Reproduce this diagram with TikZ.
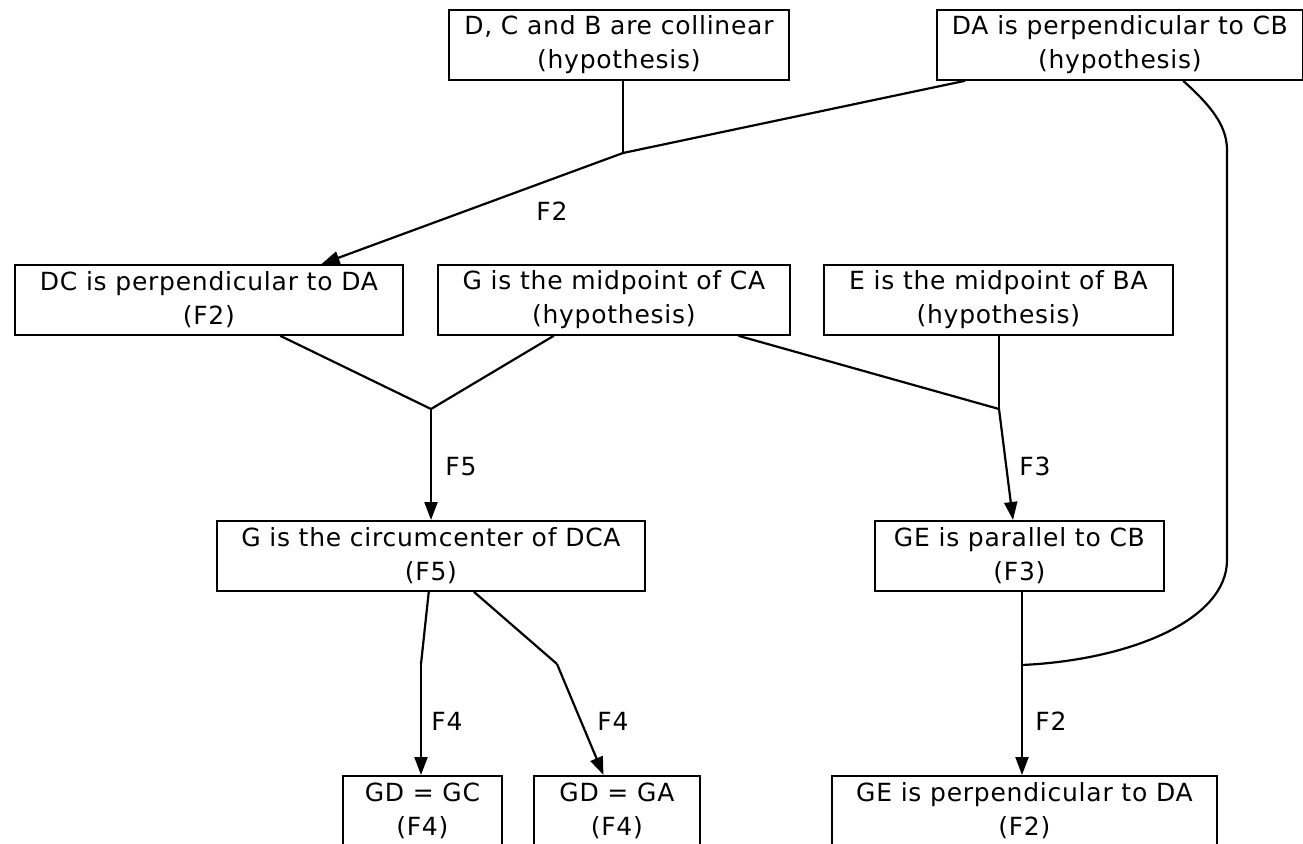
\documentclass[tikz,border=0pt]{standalone}
\usepackage{fontspec}
\setmainfont{DejaVu Sans}[LetterSpace=3]
\usetikzlibrary{arrows.meta,calc}
\begin{document}
\begin{tikzpicture}[x=1pt,y=-1pt,
  box/.style={draw, line width=1.8pt, inner sep=0pt, minimum height=70pt,
    anchor=north west, align=center, font=\fontsize{25}{34}\selectfont},
  link/.style={line width=2.2pt},
  infer/.style={line width=2.2pt, -{Triangle[length=18pt,width=13pt]}},
  rulelabel/.style={inner sep=0pt, font=\fontsize{25}{30}\selectfont}]
\useasboundingbox (0,0) rectangle (1303,843);
\clip (0,0) rectangle (1303,843);

% statements
\node[box, minimum width=340pt] (b1) at (448,9) {D, C and B are collinear\\(hypothesis)};
\node[box, minimum width=366pt] (b2) at (936,9) {DA is perpendicular to CB\\(hypothesis)};
\node[box, minimum width=388pt] (b3) at (14,264) {DC is perpendicular to DA\\(F2)};
\node[box, minimum width=352pt] (b4) at (437,264) {G is the midpoint of CA\\(hypothesis)};
\node[box, minimum width=349pt] (b5) at (823,264) {E is the midpoint of BA\\(hypothesis)};
\node[box, minimum width=428pt] (b6) at (216,520) {G is the circumcenter of DCA\\(F5)};
\node[box, minimum width=289pt] (b7) at (874,520) {GE is parallel to CB\\(F3)};
\node[box, minimum width=385pt] (b8) at (831,775) {GE is perpendicular to DA\\(F2)};
\node[box, minimum width=159pt] (b9) at (342,775) {GD = GC\\(F4)};
\node[box, minimum width=166pt] (b10) at (533,775) {GD = GA\\(F4)};

% junctions where premises meet
\coordinate (J1) at (623,153);
\coordinate (J2) at (431,409);
\coordinate (J3) at (999,409);
\coordinate (J4) at (1022,665);
\coordinate (J5) at (421,664);
\coordinate (J6) at (557,664);
\coordinate (R1) at (1227,150);
\coordinate (R2) at (1227,560);

% F2: collinear + perpendicular
\draw[link] (J1 |- b1.south) -- (J1);
\draw[link] ($(b2.south west)!0.079!(b2.south east)$) -- (J1);
\draw[infer] (J1) -- ($(b3.north west)!0.789!(b3.north east)$);
\node[rulelabel] (l1) at (552,211) {F2};

% F5
\draw[link] ($(b3.south west)!0.683!(b3.south east)$) -- (J2);
\draw[link] ($(b4.south west)!0.33!(b4.south east)$) -- (J2);
\draw[infer] (J2) -- (J2 |- b6.north);
\node[rulelabel] (l2) at (461,467) {F5};

% F3
\draw[link] ($(b4.south west)!0.852!(b4.south east)$) -- (J3);
\draw[link] (J3 |- b5.south) -- (J3);
\draw[infer] (J3) -- ($(b7.north west)!0.478!(b7.north east)$);
\node[rulelabel] (l3) at (1035,466) {F3};

% F2: parallel + perpendicular
\draw[link] (J4 |- b7.south) -- (J4);
\draw[link] ($(b2.south west)!0.672!(b2.south east)$)
  .. controls (1210,105) and (1227,125) .. (R1) -- (R2)
  .. controls (1227,620) and (1130,660) .. (J4);
\draw[infer] (J4) -- (J4 |- b8.north);
\node[rulelabel] (l4) at (1051,721) {F2};

% F4 twice
\draw[link] ($(b6.south west)!0.495!(b6.south east)$) -- (J5);
\draw[infer] (J5) -- (J5 |- b9.north);
\node[rulelabel] (l5) at (447,721) {F4};
\draw[link] ($(b6.south west)!0.600!(b6.south east)$) -- (J6);
\draw[infer] (J6) -- ($(b10.north west)!0.42!(b10.north east)$);
\node[rulelabel] (l6) at (613,721) {F4};
\end{tikzpicture}
\end{document}
